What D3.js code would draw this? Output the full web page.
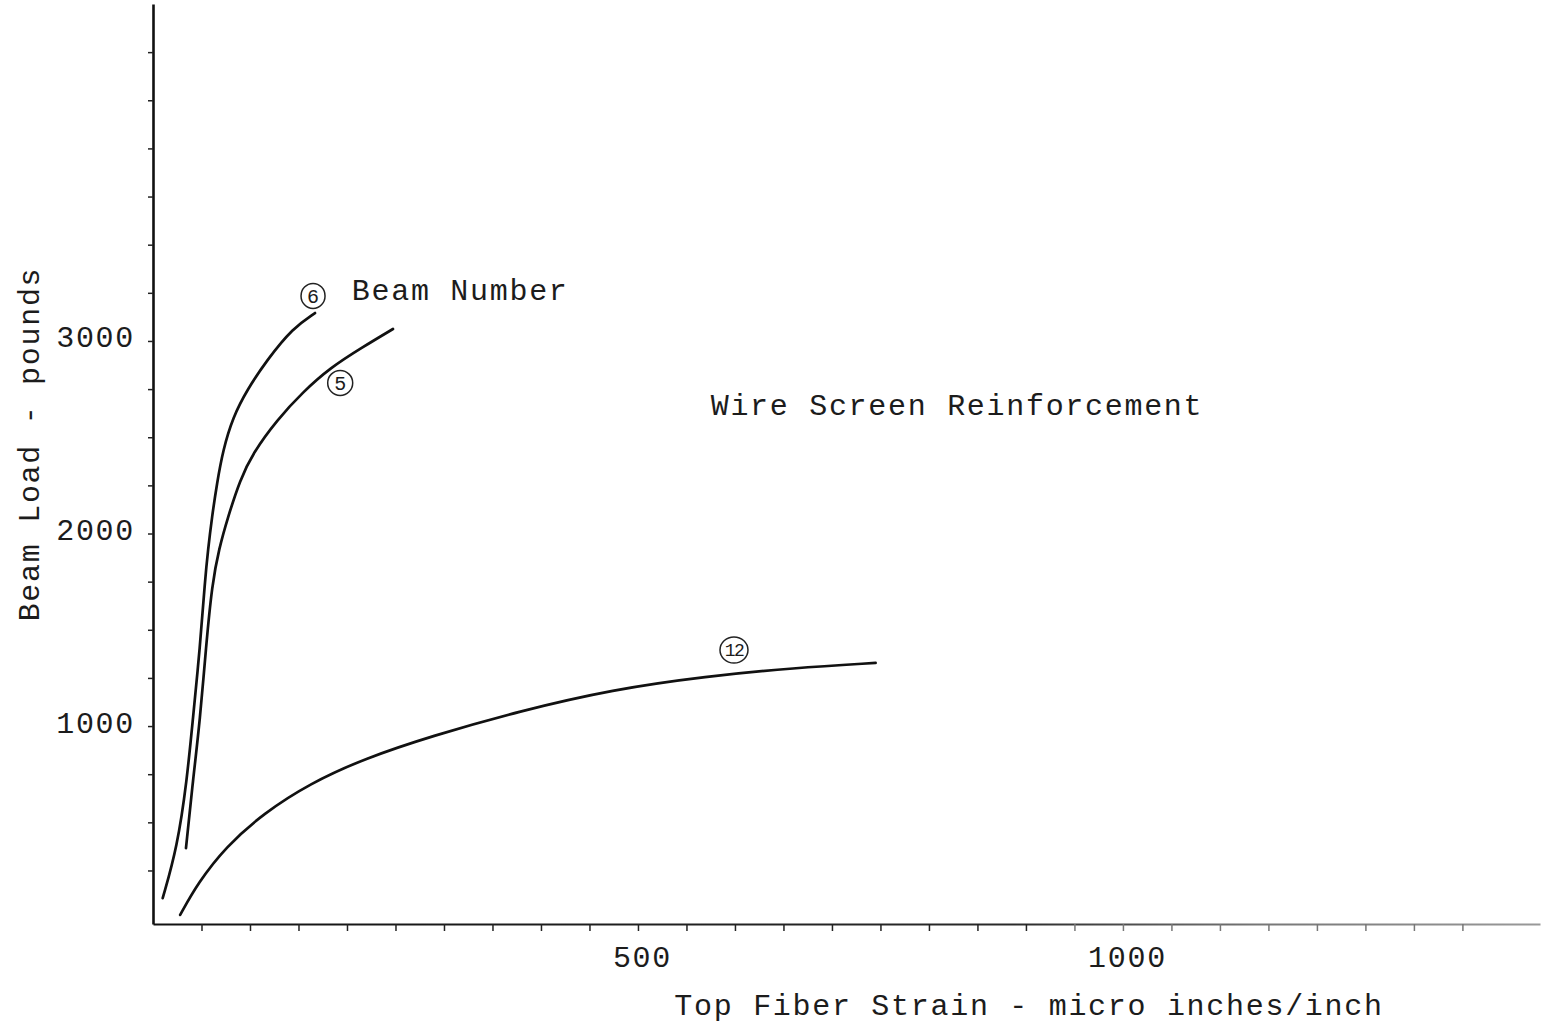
<!DOCTYPE html>
<html>
<head>
<meta charset="utf-8">
<script src="https://cdn.jsdelivr.net/npm/d3@7/dist/d3.min.js"></script>
<style>
  html, body { margin: 0; padding: 0; background: #fff; }
  svg { display: block; }
  text { font-family: "Liberation Mono", "DejaVu Sans Mono", monospace; fill: #1c1c1c; }
</style>
</head>
<body>
<svg id="chart" width="1553" height="1033"></svg>
<script>
// Load vs. top fiber strain, beams with wire screen reinforcement
const beamIds = ["6", "5", "12"];

// strain (micro in/in) and load (lb) for each beam
const strain6  = [10, 25, 35, 41, 48.5, 53.6, 56.7, 60.8, 66, 72.2, 82.5, 96.9, 117.5, 144.3, 167];
const load6    = [106, 371, 719, 1031, 1410, 1758, 1914, 2086, 2262, 2434, 2605, 2745, 2901, 3068, 3145];

const strain5  = [34, 41.2, 48.5, 54.6, 61, 68, 77.3, 89.7, 103, 127.8, 154.6, 182.5, 216.5, 247.4];
const load5    = [366, 719, 1031, 1410, 1740, 1920, 2086, 2278, 2418, 2590, 2735, 2860, 2969, 3062];

const strain12 = [28, 46, 75, 114, 162, 219, 287, 378, 474, 570, 661, 745];
const load12   = [19, 183, 373, 547, 703, 833, 948, 1078, 1190, 1258, 1302, 1328];

const xTickValues = d3.range(50, 1351, 50);
const xTickLabels = [500, 1000];
const yTickValues = d3.range(250, 4501, 250);
const yTickLabels = [1000, 2000, 3000];

const xTitle = "Top Fiber Strain - micro inches/inch";
const yTitle = "Beam Load - pounds";
const keyTitle = "Beam Number";
const chartNote = "Wire Screen Reinforcement";

const series = [
  { id: beamIds[0], xs: strain6,  ys: load6 },
  { id: beamIds[1], xs: strain5,  ys: load5 },
  { id: beamIds[2], xs: strain12, ys: load12 }
];

const svg = d3.select("#chart");

const x = d3.scaleLinear().domain([0, 1430]).range([153, 1540]);
const y = d3.scaleLinear().domain([-28, 4750]).range([924, 4]);

const FONT = 30, SPACING = 1.7;

// fading tone of the horizontal axis toward the right
const defs = svg.append("defs");
const grad = defs.append("linearGradient")
  .attr("id", "axisFade").attr("gradientUnits", "userSpaceOnUse")
  .attr("x1", x(0)).attr("x2", x(1430)).attr("y1", 0).attr("y2", 0);
grad.append("stop").attr("offset", "0").attr("stop-color", "#111");
grad.append("stop").attr("offset", "0.62").attr("stop-color", "#2a2a2a");
grad.append("stop").attr("offset", "0.8").attr("stop-color", "#777");
grad.append("stop").attr("offset", "1").attr("stop-color", "#999");

// x axis
const xAxis = d3.axisBottom(x)
  .tickValues(xTickValues)
  .tickSize(7)
  .tickSizeOuter(0)
  .tickFormat(d => xTickLabels.includes(d) ? String(d) : "");
const gx = svg.append("g").attr("transform", `translate(0,${y(-28)})`).call(xAxis);
gx.select(".domain").attr("stroke", "url(#axisFade)").attr("stroke-width", 2.2);
gx.selectAll(".tick line").attr("stroke", d => x(d) > 1050 ? "#777" : "#222").attr("stroke-width", 1.5);
gx.selectAll(".tick text")
  .attr("y", 43).attr("dy", 0)
  .attr("font-family", "Liberation Mono")
  .attr("font-size", FONT).attr("letter-spacing", SPACING)
  .attr("fill", "#1c1c1c")
  .attr("dx", 4);

// y axis
const yAxis = d3.axisLeft(y)
  .tickValues(yTickValues)
  .tickSize(5)
  .tickSizeOuter(0)
  .tickFormat(d => yTickLabels.includes(d) ? String(d) : "");
const gy = svg.append("g").attr("transform", `translate(${x(0)},0)`).call(yAxis);
gy.select(".domain").attr("stroke", "#111").attr("stroke-width", 2.6);
gy.selectAll(".tick line").attr("stroke", "#222").attr("stroke-width", 1.5);
gy.selectAll(".tick text")
  .attr("x", -18).attr("dy", 6)
  .attr("font-family", "Liberation Mono")
  .attr("font-size", FONT).attr("letter-spacing", SPACING)
  .attr("fill", "#1c1c1c");

// axis titles
svg.append("text")
  .attr("x", 1029).attr("y", 1015)
  .attr("text-anchor", "middle")
  .attr("font-size", FONT).attr("letter-spacing", SPACING)
  .attr("fill", "#333")
  .text(xTitle);

svg.append("text")
  .attr("transform", `translate(39,${444}) rotate(-90)`)
  .attr("text-anchor", "middle")
  .attr("font-size", FONT).attr("letter-spacing", SPACING)
  .attr("fill", "#222")
  .text(yTitle);

// curves
const line = d3.line()
  .x(d => x(d[0]))
  .y(d => y(d[1]))
  .curve(d3.curveBasis);

svg.append("g").selectAll("path")
  .data(series)
  .join("path")
  .attr("d", s => line(s.xs.map((v, i) => [v, s.ys[i]])))
  .attr("fill", "none")
  .attr("stroke", "#111")
  .attr("stroke-width", 2.7)
  .attr("stroke-linecap", "round");

// circled beam numbers (anchors in data units)
const tags = [
  { id: beamIds[0], sx: 165, ld: 3234, rx: 12, ry: 12.5 },
  { id: beamIds[1], sx: 193, ld: 2782, rx: 12.5, ry: 12.5 },
  { id: beamIds[2], sx: 599, ld: 1395, rx: 14, ry: 13 }
];
const tg = svg.append("g").selectAll("g").data(tags).join("g")
  .attr("transform", d => `translate(${x(d.sx)},${y(d.ld)})`);
tg.append("ellipse")
  .attr("rx", d => d.rx).attr("ry", d => d.ry)
  .attr("fill", "none").attr("stroke", "#222").attr("stroke-width", 1.5);
tg.append("text")
  .attr("text-anchor", "middle").attr("dy", d => d.id.length > 1 ? 6 : 7)
  .attr("font-family", "Liberation Sans")
  .attr("font-size", d => d.id.length > 1 ? 18 : 20)
  .attr("letter-spacing", d => d.id.length > 1 ? -1.5 : 0)
  .attr("fill", "#222")
  .text(d => d.id);

// key title and annotation
svg.append("text")
  .attr("x", x(205)).attr("y", y(3265)).attr("dy", 10)
  .attr("font-size", FONT).attr("letter-spacing", SPACING)
  .attr("fill", "#1c1c1c")
  .text(keyTitle);

svg.append("text")
  .attr("x", x(575)).attr("y", y(2668)).attr("dy", 10)
  .attr("font-size", FONT).attr("letter-spacing", SPACING)
  .attr("fill", "#2a2a2a")
  .text(chartNote);
</script>
</body>
</html>
